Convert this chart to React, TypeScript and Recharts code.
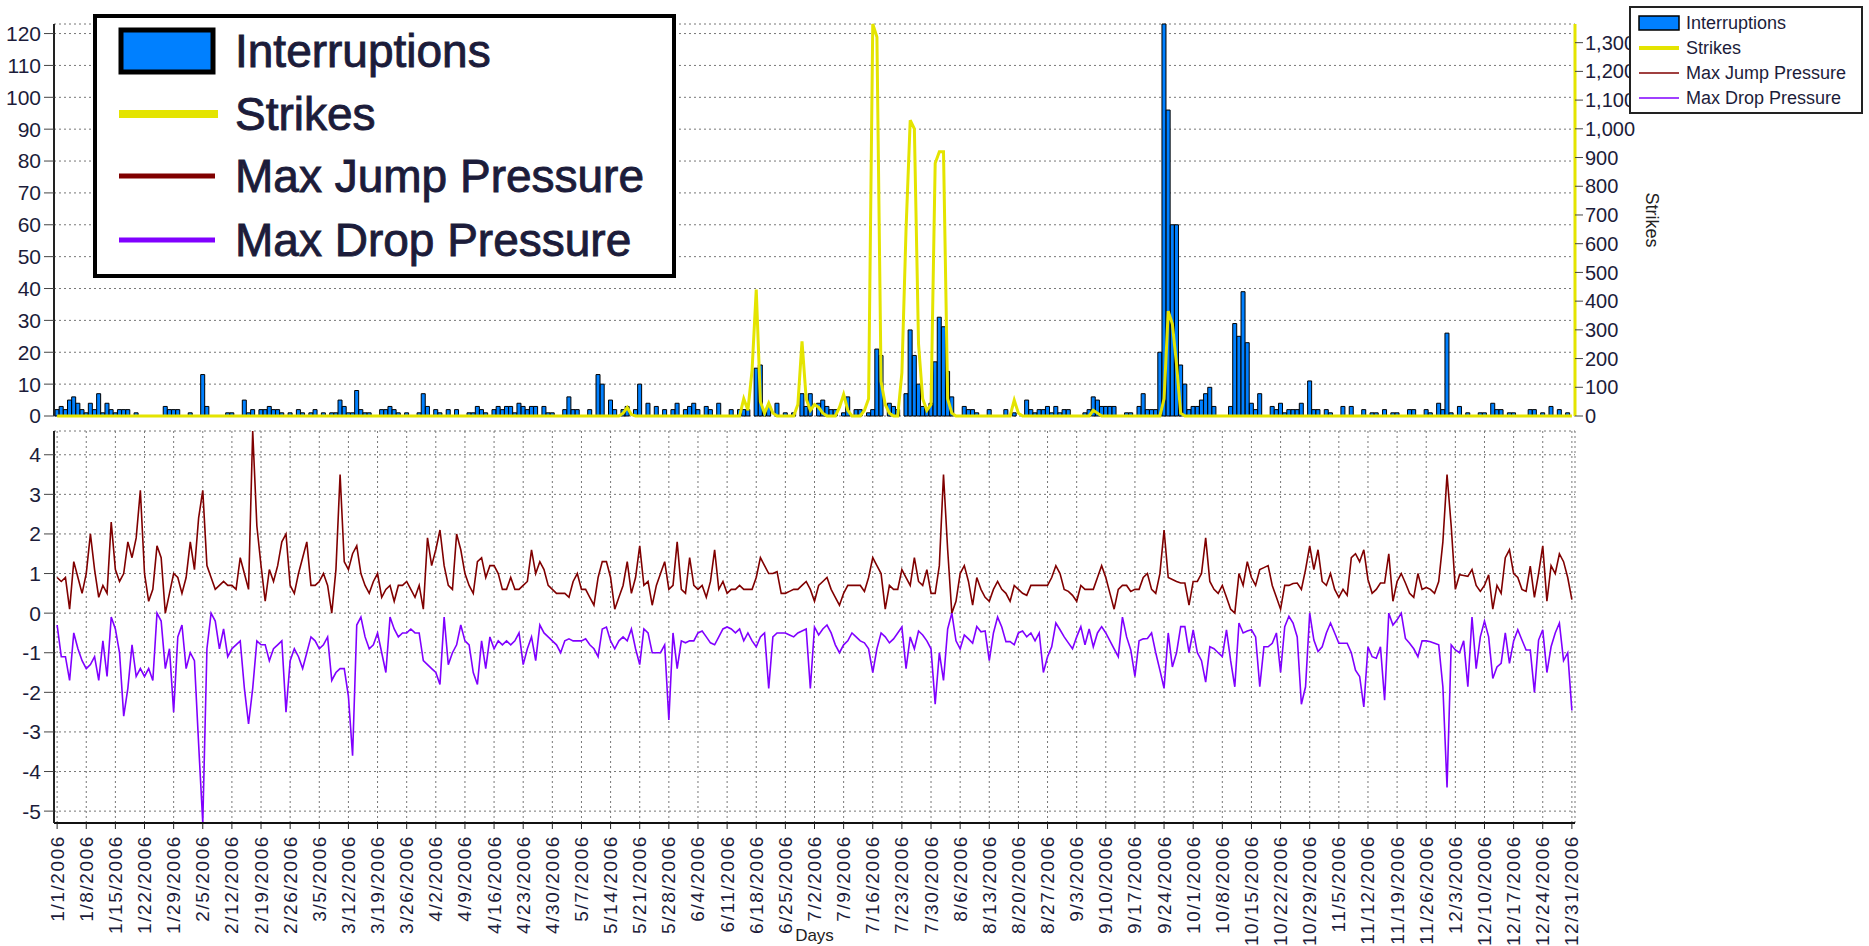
import {
  ComposedChart,
  LineChart,
  Bar,
  Line,
  XAxis,
  YAxis,
  CartesianGrid,
} from 'recharts';

// one label per week, 1/1/2006 .. 12/31/2006
const tickLabels = [
  '1/1/2006', '1/8/2006', '1/15/2006', '1/22/2006', '1/29/2006', '2/5/2006', '2/12/2006',
  '2/19/2006', '2/26/2006', '3/5/2006', '3/12/2006', '3/19/2006', '3/26/2006', '4/2/2006',
  '4/9/2006', '4/16/2006', '4/23/2006', '4/30/2006', '5/7/2006', '5/14/2006', '5/21/2006',
  '5/28/2006', '6/4/2006', '6/11/2006', '6/18/2006', '6/25/2006', '7/2/2006', '7/9/2006',
  '7/16/2006', '7/23/2006', '7/30/2006', '8/6/2006', '8/13/2006', '8/20/2006', '8/27/2006',
  '9/3/2006', '9/10/2006', '9/17/2006', '9/24/2006', '10/1/2006', '10/8/2006', '10/15/2006',
  '10/22/2006', '10/29/2006', '11/5/2006', '11/12/2006', '11/19/2006', '11/26/2006', '12/3/2006',
  '12/10/2006', '12/17/2006', '12/24/2006', '12/31/2006',
];

// daily values, one row per week (same order as tickLabels)
const interruptions = [
  2, 3, 2, 5, 6, 4, 2,
  1, 4, 2, 7, 1, 4, 2,
  1, 2, 2, 2, 0, 1, 0,
  0, 0, 0, 0, 0, 3, 2,
  2, 2, 0, 0, 1, 0, 0,
  13, 3, 0, 0, 0, 0, 1,
  1, 0, 0, 5, 1, 2, 0,
  2, 2, 3, 2, 2, 1, 0,
  1, 0, 2, 1, 0, 1, 2,
  0, 1, 0, 1, 1, 5, 3,
  1, 1, 8, 2, 1, 1, 0,
  0, 2, 2, 3, 2, 1, 0,
  1, 0, 0, 1, 7, 3, 0,
  2, 1, 0, 2, 0, 2, 0,
  0, 1, 1, 3, 2, 1, 0,
  2, 3, 2, 3, 3, 1, 4,
  3, 2, 3, 3, 0, 3, 1,
  1, 0, 0, 2, 6, 2, 2,
  0, 0, 2, 0, 13, 10, 0,
  5, 2, 0, 2, 3, 0, 2,
  10, 0, 4, 0, 3, 0, 2,
  0, 2, 4, 0, 2, 3, 4,
  2, 0, 3, 2, 0, 4, 0,
  0, 2, 0, 2, 2, 2, 0,
  15, 16, 2, 3, 0, 4, 0,
  1, 0, 1, 0, 7, 3, 7,
  0, 4, 5, 3, 2, 2, 0,
  1, 6, 0, 2, 2, 0, 1,
  2, 21, 19, 0, 4, 3, 2,
  0, 7, 27, 19, 10, 3, 2,
  4, 17, 31, 28, 14, 6, 0,
  0, 3, 2, 2, 1, 0, 0,
  2, 0, 0, 0, 2, 0, 1,
  0, 0, 5, 2, 1, 2, 2,
  3, 1, 3, 1, 2, 2, 0,
  0, 0, 1, 2, 6, 5, 3,
  3, 3, 3, 0, 0, 1, 1,
  0, 3, 7, 2, 2, 2, 20,
  123, 96, 60, 60, 16, 10, 2,
  3, 3, 5, 7, 9, 3, 0,
  0, 0, 3, 29, 25, 39, 23,
  4, 2, 7, 0, 0, 3, 2,
  4, 1, 2, 2, 2, 4, 0,
  11, 2, 2, 0, 2, 1, 0,
  0, 3, 0, 3, 0, 0, 2,
  0, 1, 1, 0, 2, 0, 1,
  1, 0, 0, 2, 2, 0, 0,
  2, 1, 0, 4, 2, 26, 1,
  0, 3, 0, 1, 0, 0, 1,
  1, 0, 4, 2, 2, 0, 1,
  1, 0, 0, 0, 2, 2, 0,
  1, 0, 3, 0, 2, 0, 1,
  0,
];

const strikes = [
  0, 0, 0, 0, 0, 0, 0,
  0, 0, 0, 0, 0, 0, 0,
  0, 0, 0, 0, 0, 0, 0,
  0, 0, 0, 0, 0, 0, 0,
  0, 0, 0, 0, 0, 0, 0,
  0, 0, 0, 0, 0, 0, 0,
  0, 0, 0, 0, 0, 0, 0,
  0, 0, 0, 0, 0, 0, 0,
  0, 0, 0, 0, 0, 0, 0,
  0, 0, 0, 0, 0, 0, 0,
  0, 0, 0, 0, 0, 0, 0,
  0, 0, 0, 0, 0, 0, 0,
  0, 0, 0, 0, 0, 0, 0,
  0, 0, 0, 0, 0, 0, 0,
  0, 0, 0, 0, 0, 0, 0,
  0, 0, 0, 0, 0, 0, 0,
  0, 0, 0, 0, 0, 0, 0,
  0, 0, 0, 0, 0, 0, 0,
  0, 0, 0, 0, 0, 0, 0,
  0, 0, 0, 10, 30, 5, 0,
  0, 0, 0, 0, 0, 0, 0,
  0, 0, 0, 0, 0, 0, 0,
  0, 0, 0, 0, 0, 0, 0,
  0, 0, 0, 0, 60, 20, 160,
  440, 50, 10, 45, 10, 0, 0,
  0, 0, 0, 40, 260, 60, 20,
  40, 30, 10, 0, 0, 0, 30,
  75, 20, 0, 0, 0, 20, 60,
  1365, 1320, 120, 40, 10, 0, 0,
  150, 650, 1030, 1000, 250, 60, 20,
  40, 880, 920, 920, 60, 10, 0,
  0, 0, 0, 0, 0, 0, 0,
  0, 0, 0, 0, 0, 0, 55,
  10, 0, 0, 0, 0, 0, 0,
  0, 0, 0, 0, 0, 0, 0,
  0, 0, 0, 0, 20, 10, 0,
  0, 0, 0, 0, 0, 0, 0,
  0, 0, 0, 0, 0, 0, 0,
  60, 365, 320, 180, 10, 0, 0,
  0, 0, 0, 0, 0, 0, 0,
  0, 0, 0, 0, 0, 0, 0,
  0, 0, 0, 0, 0, 0, 0,
  0, 0, 0, 0, 0, 0, 0,
  0, 0, 0, 0, 0, 0, 0,
  0, 0, 0, 0, 0, 0, 0,
  0, 0, 0, 0, 0, 0, 0,
  0, 0, 0, 0, 0, 0, 0,
  0, 0, 0, 0, 0, 0, 0,
  0, 0, 0, 0, 0, 0, 0,
  0, 0, 0, 0, 0, 0, 0,
  0, 0, 0, 0, 0, 0, 0,
  0, 0, 0, 0, 0, 0, 0,
  0,
];

const maxJumpPressure = [
  0.9, 0.8, 0.9, 0.1, 1.3, 0.9, 0.5,
  1.0, 2.0, 1.1, 0.4, 0.7, 0.5, 2.3,
  1.1, 0.8, 1.0, 1.8, 1.4, 1.9, 3.1,
  1.0, 0.3, 0.6, 1.7, 1.4, 0.0, 0.5,
  1.0, 0.9, 0.5, 0.9, 1.8, 1.1, 2.4,
  3.1, 1.2, 0.9, 0.6, 0.7, 0.8, 0.7,
  0.7, 0.6, 1.4, 1.0, 0.6, 4.6, 2.2,
  1.2, 0.3, 1.1, 0.8, 1.2, 1.8, 2.0,
  0.7, 0.5, 1.0, 1.4, 1.8, 0.7, 0.7,
  0.8, 1.0, 0.7, 0.0, 1.1, 3.5, 1.3,
  1.1, 1.5, 1.7, 1.0, 0.7, 0.5, 0.8,
  1.0, 0.4, 0.6, 0.7, 0.3, 0.7, 0.7,
  0.8, 0.6, 0.4, 0.7, 0.1, 1.9, 1.2,
  1.6, 2.1, 1.2, 0.7, 0.6, 2.0, 1.6,
  1.0, 0.7, 0.5, 1.3, 1.4, 0.9, 1.2,
  1.2, 1.0, 0.6, 0.6, 0.9, 0.6, 0.6,
  0.7, 0.8, 1.6, 1.0, 1.3, 1.1, 0.7,
  0.6, 0.5, 0.5, 0.5, 0.4, 0.8, 1.0,
  0.6, 0.6, 0.4, 0.2, 0.9, 1.3, 1.3,
  0.9, 0.1, 0.4, 0.7, 1.3, 0.5, 0.9,
  1.7, 0.7, 0.8, 0.2, 0.7, 1.0, 1.3,
  0.6, 0.7, 1.8, 0.6, 0.5, 1.4, 0.7,
  0.6, 0.7, 0.4, 0.8, 1.6, 0.6, 0.8,
  0.5, 0.6, 0.6, 0.7, 0.6, 0.6, 0.6,
  0.9, 1.4, 1.2, 1.0, 1.0, 1.05, 0.5,
  0.5, 0.55, 0.6, 0.6, 0.7, 0.8, 0.6,
  0.3, 0.7, 0.8, 0.9, 0.6, 0.4, 0.2,
  0.5, 0.7, 0.7, 0.7, 0.7, 0.55, 0.9,
  1.4, 1.2, 1.0, 0.1, 0.7, 0.6, 0.6,
  1.1, 0.9, 0.7, 1.4, 0.8, 0.7, 1.1,
  0.5, 0.5, 1.2, 3.5, 1.6, 0.0, 0.3,
  1.0, 1.2, 0.8, 0.2, 0.9, 0.6, 0.4,
  0.3, 0.6, 0.8, 0.6, 0.5, 0.3, 0.7,
  0.6, 0.5, 0.45, 0.7, 0.7, 0.7, 0.7,
  0.7, 0.9, 1.2, 1.0, 0.6, 0.55, 0.45,
  0.3, 0.7, 0.6, 0.6, 0.6, 0.9, 1.2,
  0.9, 0.5, 0.1, 0.6, 0.7, 0.7, 0.55,
  0.6, 0.6, 0.9, 1.0, 0.6, 0.5, 1.0,
  2.1, 0.9, 0.85, 0.8, 0.76, 0.76, 0.2,
  0.8, 0.8, 1.0, 1.9, 0.8, 0.6, 0.5,
  0.7, 0.4, 0.1, 0.0, 1.0, 0.7, 1.3,
  0.9, 0.7, 1.1, 1.15, 1.2, 0.7, 0.4,
  0.1, 0.7, 0.7, 0.75, 0.76, 0.6, 1.1,
  1.7, 1.1, 1.6, 0.8, 0.7, 1.0, 0.6,
  0.4, 0.6, 0.45, 1.4, 1.5, 1.3, 1.6,
  0.85, 0.5, 0.6, 0.76, 0.76, 1.5, 0.3,
  0.8, 1.0, 0.76, 0.5, 0.4, 1.0, 0.6,
  0.65, 0.6, 0.5, 0.8, 1.8, 3.5, 2.2,
  0.6, 0.97, 0.95, 0.93, 1.1, 0.7, 0.55,
  0.7, 0.97, 0.1, 0.7, 0.5, 1.4, 1.6,
  1.0, 0.9, 0.6, 0.55, 1.19, 0.4, 1.0,
  1.7, 0.3, 1.2, 1.0, 1.5, 1.3, 0.9,
  0.34,
];

const maxDropPressure = [
  -0.3, -1.1, -1.1, -1.7, -0.5, -0.9, -1.2,
  -1.4, -1.3, -1.1, -1.7, -0.7, -1.6, -0.1,
  -0.4, -1.0, -2.6, -1.9, -0.8, -1.6, -1.4,
  -1.6, -1.4, -1.7, 0.0, -0.2, -1.4, -0.9,
  -2.5, -0.6, -0.3, -1.4, -1.0, -1.2, -3.3,
  -5.3, -0.9, 0.0, -0.2, -0.9, -0.4, -1.1,
  -0.9, -0.8, -0.7, -1.9, -2.8, -1.9, -0.7,
  -0.8, -0.8, -1.2, -0.9, -0.8, -0.7, -2.5,
  -1.2, -0.9, -1.1, -1.4, -1.0, -0.6, -0.7,
  -0.9, -0.8, -0.6, -1.7, -1.5, -1.4, -1.4,
  -2.1, -3.6, -0.3, -0.1, -0.6, -0.9, -0.8,
  -0.5, -1.0, -1.5, -0.1, -0.4, -0.6, -0.5,
  -0.5, -0.4, -0.5, -0.5, -1.2, -1.3, -1.4,
  -1.5, -1.8, -0.1, -1.3, -1.0, -0.8, -0.3,
  -0.7, -0.8, -1.5, -1.8, -0.7, -1.4, -0.6,
  -0.9, -0.7, -0.8, -0.7, -0.8, -0.7, -0.5,
  -1.3, -0.9, -0.6, -1.2, -0.3, -0.5, -0.6,
  -0.7, -0.8, -1.0, -0.7, -0.65, -0.7, -0.7,
  -0.7, -0.65, -0.8, -0.9, -1.1, -0.4, -0.35,
  -0.7, -0.9, -0.7, -0.6, -0.7, -0.4, -0.9,
  -1.3, -0.4, -0.5, -1.0, -1.0, -1.0, -0.8,
  -2.7, -0.5, -1.4, -0.7, -0.75, -0.7, -0.7,
  -0.5, -0.45, -0.6, -0.75, -0.8, -0.6, -0.4,
  -0.35, -0.4, -0.5, -0.4, -0.7, -0.5, -0.7,
  -0.85, -0.6, -0.5, -1.9, -0.6, -0.5, -0.5,
  -0.5, -0.55, -0.6, -0.5, -0.45, -0.4, -1.9,
  -0.35, -0.55, -0.4, -0.3, -0.5, -0.8, -1.0,
  -0.8, -0.7, -0.5, -0.6, -0.7, -0.75, -0.9,
  -1.5, -0.9, -0.5, -0.6, -0.75, -0.65, -0.5,
  -0.35, -1.4, -0.6, -0.9, -0.45, -0.55, -0.7,
  -0.9, -2.3, -1.0, -1.7, -0.4, 0.0, -0.7,
  -0.9, -0.55, -0.65, -0.76, -0.34, -0.47, -0.45,
  -1.2, -0.5, -0.1, -0.35, -0.72, -0.72, -0.8,
  -0.5, -0.45, -0.6, -0.5, -0.7, -0.5, -1.5,
  -1.1, -0.85, -0.25, -0.42, -0.6, -0.75, -0.9,
  -0.6, -0.34, -0.8, -0.4, -0.85, -0.5, -0.34,
  -0.5, -0.7, -0.9, -1.1, -0.1, -0.6, -0.93,
  -1.6, -0.7, -0.65, -0.64, -0.5, -1.0, -1.44,
  -1.9, -0.5, -1.36, -1.0, -0.34, -0.34, -1.0,
  -0.42, -1.0, -1.2, -1.74, -0.85, -0.9, -1.0,
  -1.1, -0.42, -1.2, -1.86, -0.25, -0.5, -0.45,
  -0.42, -0.6, -1.86, -0.85, -0.85, -0.76, -0.5,
  -1.5, -0.34, -0.08, -0.25, -0.6, -2.3, -1.86,
  0.0, -0.68, -0.97, -0.85, -0.5, -0.25, -0.5,
  -0.76, -0.76, -0.76, -1.0, -1.44, -1.6, -2.37,
  -0.85, -1.1, -1.14, -0.85, -2.2, 0.0, -0.3,
  -0.17, 0.0, -0.64, -0.76, -0.9, -1.1, -0.7,
  -0.7, -0.72, -0.76, -0.8, -1.86, -4.4, -0.8,
  -0.93, -1.0, -0.7, -1.86, -0.1, -1.4, -0.6,
  -0.2, -0.6, -1.65, -1.36, -1.27, -0.5, -1.27,
  -0.7, -0.42, -0.68, -0.93, -0.93, -2.0, -0.68,
  -0.42, -1.5, -0.85, -0.5, -0.25, -1.2, -1.0,
  -2.46,
];

const interruptionTicks = [0, 10, 20, 30, 40, 50, 60, 70, 80, 90, 100, 110, 120];
const strikeTicks = [0, 100, 200, 300, 400, 500, 600, 700, 800, 900, 1000, 1100, 1200, 1300];
const pressureTicks = [-5, -4, -3, -2, -1, 0, 1, 2, 3, 4];

const FONT = '"Liberation Sans", Arial, sans-serif';
const TEXT = '#1c1c3a';
const BLUE = '#0080ff';
const YELLOW = '#e4e400';
const JUMP = '#800000';
const DROP = '#8000ff';
const X_DOMAIN: [number, number] = [-0.75, 364.75];

const data = interruptions.map((v, i) => ({
  day: i,
  interruptions: v,
  strikes: strikes[i],
  jump: maxJumpPressure[i],
  drop: maxDropPressure[i],
}));
const weekTicks = tickLabels.map((_, i) => i * 7);

const axisTick = { fill: TEXT, fontSize: 21, fontFamily: FONT };
const rightTick = { fill: TEXT, fontSize: 20, fontFamily: FONT };

function DayTick(props: any) {
  const { x, y, index } = props;
  return (
    <text
      x={x}
      y={y}
      transform={`rotate(-90, ${x}, ${y})`}
      textAnchor="end"
      dominantBaseline="central"
      fontSize={19}
      letterSpacing={1.6}
      fontFamily={FONT}
      fill={TEXT}
    >
      {tickLabels[index]}
    </text>
  );
}

const legendItems = [
  { name: 'Interruptions', kind: 'bar', color: BLUE },
  { name: 'Strikes', kind: 'line', color: YELLOW },
  { name: 'Max Jump Pressure', kind: 'line', color: JUMP },
  { name: 'Max Drop Pressure', kind: 'line', color: DROP },
];

// the large legend that sits over the top-left of the chart
function BigLegend() {
  const rows = [51, 114, 176, 240];
  return (
    <div
      style={{
        position: 'absolute',
        left: 93,
        top: 14,
        width: 583,
        height: 264,
        boxSizing: 'border-box',
        border: '4px solid #000',
        background: '#fff',
      }}
    >
      <svg width={575} height={256} style={{ position: 'absolute', left: 0, top: 0 }}>
        {legendItems.map((item, i) => {
          const cy = rows[i] - 18;
          return (
            <g key={item.name}>
              {item.kind === 'bar' ? (
                <rect x={24} y={cy - 21} width={92} height={42} fill={item.color} stroke="#000" strokeWidth={5} />
              ) : (
                <line
                  x1={22}
                  x2={item.name === 'Strikes' ? 121 : 118}
                  y1={cy}
                  y2={cy}
                  stroke={item.color}
                  strokeWidth={item.name === 'Strikes' ? 8 : 5}
                />
              )}
              <text
                x={138}
                y={cy}
                dominantBaseline="central"
                fontSize={46}
                fontFamily={FONT}
                fill={TEXT}
                stroke={TEXT}
                strokeWidth={0.9}
              >
                {item.name}
              </text>
            </g>
          );
        })}
      </svg>
    </div>
  );
}

// the small legend in the top-right corner
function SmallLegend() {
  const rows = [23, 48, 73, 98];
  return (
    <div
      style={{
        position: 'absolute',
        left: 1629,
        top: 6,
        width: 234,
        height: 108,
        boxSizing: 'border-box',
        border: '2px solid #222',
        background: '#fff',
      }}
    >
      <svg width={230} height={104} style={{ position: 'absolute', left: 0, top: 0 }}>
        {legendItems.map((item, i) => {
          const cy = rows[i] - 8;
          return (
            <g key={item.name}>
              {item.kind === 'bar' ? (
                <rect x={8} y={cy - 7} width={40} height={14} fill={item.color} stroke="#000" strokeWidth={1.5} />
              ) : (
                <line
                  x1={8}
                  x2={48}
                  y1={cy}
                  y2={cy}
                  stroke={item.color}
                  strokeWidth={item.name === 'Strikes' ? 4 : 1.5}
                />
              )}
              <text x={55} y={cy} dominantBaseline="central" fontSize={18} fontFamily={FONT} fill={TEXT}>
                {item.name}
              </text>
            </g>
          );
        })}
      </svg>
    </div>
  );
}

export default function App() {
  return (
    <div
      style={{
        position: 'absolute',
        left: 0,
        top: 0,
        width: 1869,
        height: 946,
        background: '#fff',
        overflow: 'hidden',
        fontFamily: FONT,
      }}
    >
      <div style={{ position: 'absolute', left: 0, top: 0 }}>
        <ComposedChart
          width={1869}
          height={440}
          data={data}
          margin={{ top: 24, right: 204, bottom: 16, left: 0 }}
        >
          <CartesianGrid yAxisId="left" stroke="#777" strokeDasharray="2 3" />
          <XAxis
            dataKey="day"
            type="number"
            domain={X_DOMAIN}
            ticks={weekTicks}
            interval={0}
            allowDataOverflow
            height={8}
            tick={false}
            tickLine={false}
            axisLine={false}
          />
          <YAxis
            yAxisId="left"
            domain={[0, 123]}
            ticks={interruptionTicks}
            interval={0}
            width={54}
            tickSize={10}
            tickMargin={3}
            tick={axisTick}
            axisLine={{ stroke: '#222', strokeWidth: 2 }}
            tickLine={{ stroke: '#444' }}
          />
          <YAxis
            yAxisId="strikes"
            orientation="right"
            domain={[0, 1365]}
            ticks={strikeTicks}
            interval={0}
            width={90}
            tickSize={8}
            tickMargin={2}
            tick={rightTick}
            tickFormatter={(v: number) => v.toLocaleString('en-US')}
            axisLine={{ stroke: YELLOW, strokeWidth: 3 }}
            tickLine={{ stroke: '#444' }}
            label={{
              value: 'Strikes',
              angle: 90,
              position: 'center',
              dx: 32,
              fill: '#222',
              fontSize: 18,
              fontFamily: FONT,
            }}
          />
          <Bar
            yAxisId="left"
            dataKey="interruptions"
            fill={BLUE}
            stroke="#000"
            strokeWidth={1}
            barSize={4}
            isAnimationActive={false}
          />
          <Line
            yAxisId="strikes"
            type="linear"
            dataKey="strikes"
            stroke={YELLOW}
            strokeWidth={3}
            dot={false}
            isAnimationActive={false}
          />
        </ComposedChart>
      </div>

      <div style={{ position: 'absolute', left: 0, top: 424 }}>
        <LineChart
          width={1869}
          height={522}
          data={data}
          margin={{ top: 7, right: 294, bottom: 0, left: 0 }}
        >
          <CartesianGrid stroke="#777" strokeDasharray="2 3" />
          <XAxis
            dataKey="day"
            type="number"
            domain={X_DOMAIN}
            ticks={weekTicks}
            interval={0}
            allowDataOverflow
            height={123}
            tickSize={6}
            tickMargin={6}
            tick={<DayTick />}
            axisLine={{ stroke: '#111', strokeWidth: 2 }}
            tickLine={{ stroke: '#222' }}
            label={{
              value: 'Days',
              position: 'insideBottom',
              offset: 5,
              fill: '#222',
              fontSize: 17,
              fontFamily: FONT,
            }}
          />
          <YAxis
            domain={[-5.3, 4.6]}
            ticks={pressureTicks}
            interval={0}
            width={54}
            tickSize={10}
            tickMargin={3}
            tick={axisTick}
            axisLine={{ stroke: '#222', strokeWidth: 2 }}
            tickLine={{ stroke: '#444' }}
          />
          <Line
            type="linear"
            dataKey="jump"
            stroke={JUMP}
            strokeWidth={1.6}
            dot={false}
            isAnimationActive={false}
          />
          <Line
            type="linear"
            dataKey="drop"
            stroke={DROP}
            strokeWidth={1.6}
            dot={false}
            isAnimationActive={false}
          />
        </LineChart>
      </div>

      <BigLegend />
      <SmallLegend />
    </div>
  );
}
